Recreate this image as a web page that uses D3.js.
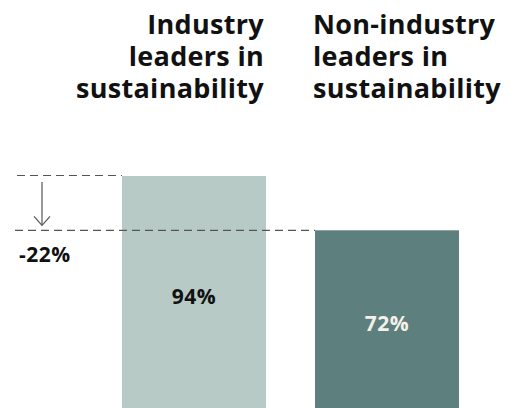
<!DOCTYPE html>
<html>
<head>
<meta charset="utf-8">
<script src="https://cdn.jsdelivr.net/npm/d3@7"></script>
<style>
  body { margin: 0; background: #fff; }
  svg text { font-family: "Open Sans", Roboto, sans-serif; font-weight: bold; }
</style>
</head>
<body>
<div id="chart"></div>
<script>
const categories = ["industry", "nonIndustry"];
const values = [94, 72];
const headers = [
  ["Industry", "leaders in", "sustainability"],
  ["Non-industry", "leaders in", "sustainability"]
];
const diffLabel = "-22%";

const width = 517, height = 408;

const svg = d3.select("#chart")
  .append("svg")
  .attr("width", width)
  .attr("height", height);

const x = d3.scaleBand()
  .domain(categories)
  .range([122, 459])
  .paddingInner(0.254);

const y = d3.scaleLinear()
  .domain([0, 94])
  .range([height, 176]);

const barColors = ["#b8cac6", "#5d807e"];
const labelColors = ["#111", "#f5f1e8"];

// bars
svg.selectAll(".bar")
  .data(values)
  .join("rect")
  .attr("class", "bar")
  .attr("x", (d, i) => x(categories[i]))
  .attr("y", d => y(d))
  .attr("width", x.bandwidth())
  .attr("height", d => y(0) - y(d))
  .attr("fill", (d, i) => barColors[i]);

// value labels
svg.selectAll(".val")
  .data(values)
  .join("text")
  .attr("class", "val")
  .attr("x", (d, i) => x(categories[i]) + x.bandwidth() / 2)
  .attr("y", d => (y(d) + y(0)) / 2 + 12)
  .attr("text-anchor", "middle")
  .style("font-size", "21px")
  .style("letter-spacing", "0.5px")
  .attr("fill", (d, i) => labelColors[i])
  .text(d => d + "%");

// headers
headers.forEach((lines, i) => {
  const left = i === 0;
  const t = svg.append("text")
    .attr("text-anchor", left ? "end" : "start")
    .style("font-size", "27px")
    .style("letter-spacing", "0.3px")
    .attr("fill", "#111");
  lines.forEach((line, j) => {
    t.append("tspan")
      .attr("x", left ? x(categories[0]) + x.bandwidth() - 2 : x(categories[1]) - 2)
      .attr("y", 34 + j * 32)
      .text(line);
  });
});

// dashed reference lines
const dash = "8,5";
svg.append("line")
  .attr("x1", 17).attr("x2", x(categories[0]))
  .attr("y1", y(values[0]) - 0.5).attr("y2", y(values[0]) - 0.5)
  .attr("stroke", "#555").attr("stroke-width", 1.2)
  .attr("stroke-dasharray", dash);

svg.append("line")
  .attr("x1", 15).attr("x2", x(categories[1]))
  .attr("y1", y(values[1])).attr("y2", y(values[1]))
  .attr("stroke", "#555").attr("stroke-width", 1.2)
  .attr("stroke-dasharray", dash);

// arrow
const ax = 42;
svg.append("line")
  .attr("x1", ax).attr("x2", ax)
  .attr("y1", y(values[0]) + 6).attr("y2", y(values[1]) - 5)
  .attr("stroke", "#555").attr("stroke-width", 1.2);
svg.append("path")
  .attr("d", `M${ax - 8},${y(values[1]) - 14} L${ax},${y(values[1]) - 5} L${ax + 8},${y(values[1]) - 14}`)
  .attr("fill", "none")
  .attr("stroke", "#555").attr("stroke-width", 1.2);

svg.append("text")
  .attr("x", 19)
  .attr("y", y(values[1]) + 32)
  .style("font-size", "21px")
  .style("letter-spacing", "0.5px")
  .attr("fill", "#111")
  .text(diffLabel);
</script>
</body>
</html>
